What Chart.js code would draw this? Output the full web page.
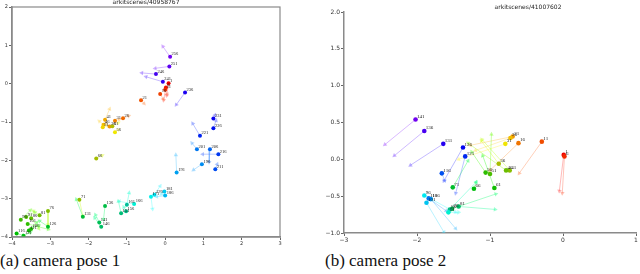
<!DOCTYPE html>
<html>
<head>
<meta charset="utf-8">
<script src="https://cdn.jsdelivr.net/npm/chart.js@4.4.1/dist/chart.umd.min.js"></script>
<style>
  body { margin: 0; background: #fff; width: 640px; height: 274px; position: relative; overflow: hidden; }
  .box { position: absolute; top: 0; }
  #boxA { left: 0; width: 300px; height: 247px; }
  #boxB { left: 320px; width: 320px; height: 245px; }
  .cap { position: absolute; top: 251px; font: 17px "Liberation Serif", serif; color: #111; white-space: nowrap; }
</style>
</head>
<body>
<div class="box" id="boxA"><canvas id="chartA"></canvas></div>
<div class="box" id="boxB"><canvas id="chartB"></canvas></div>
<div class="cap" style="left:0px">(a) camera pose 1</div>
<div class="cap" style="left:325px">(b) camera pose 2</div>
<script>
// scene 40958767 : frame ids, camera positions and where each view arrow points
var leftFrames = [1, 6, 11, 16, 21, 26, 31, 36, 41, 46, 51, 56, 61, 66, 71, 76, 81, 86, 91, 96, 101, 106, 111, 116, 121, 126,
  131, 136, 141, 146, 151, 156, 161, 166, 171, 176, 181, 186, 191, 196, 201, 206, 211, 216, 221, 226, 231, 236, 241, 246, 251, 256];
var leftX = [0.09, 0.02, 0.00, -0.13, -0.63, -1.10, -1.31, -1.45, -1.57, -1.61, -1.63, -1.31, -1.38, -1.80, -2.24, -3.06, -3.28,
  -3.50, -3.63, -3.77, -3.59, -3.50, -3.56, -3.88, -3.70, -3.06, -2.15, -1.57, -1.72, -1.67, -1.15, -1.02, -1.00, -0.81, -0.37,
  -0.28, -0.02, 0.00, 0.30, 0.96, 0.83, 1.17, 1.31, 1.39, 0.91, 1.26, 1.26, 0.52, -0.06, -0.24, 0.11, 0.13];
var leftY = [0.01, -0.10, -0.16, -0.27, -0.43, -0.90, -0.97, -1.12, -0.94, -1.07, -1.14, -1.27, -1.11, -1.95, -3.03, -3.32, -3.43,
  -3.51, -3.48, -3.55, -3.66, -3.79, -3.83, -3.91, -3.97, -3.73, -3.47, -3.19, -3.62, -3.73, -3.38, -3.33, -3.16, -3.14, -2.95,
  -2.90, -2.81, -2.92, -2.32, -2.10, -1.71, -1.71, -2.23, -1.84, -1.36, -1.16, -0.91, -0.23, 0.05, 0.25, 0.45, 0.70];
var leftToX = [0.04, -0.04, 0.05, -0.05, -0.55, -0.95, -1.20, -1.55, -1.45, -1.72, -1.50, -1.22, -1.22, -1.64, -2.15, -3.06, -3.44,
  -3.30, -3.40, -3.52, -3.05, -3.30, -3.35, -3.70, -3.52, -3.28, -2.32, -1.61, -1.82, -1.84, -1.22, -1.08, -0.94, -1.20, -0.33,
  -0.13, -0.10, -0.22, 0.28, 0.74, 0.70, 1.15, 1.36, 0.98, 0.72, 1.33, 1.30, 0.29, -0.50, -0.61, -0.26, -0.06];
var leftToY = [-0.31, -0.43, -0.28, -0.40, -0.52, -0.84, -0.93, -1.02, -0.66, -0.98, -1.10, -1.20, -1.02, -1.87, -3.45, -3.68, -3.32,
  -3.78, -3.36, -3.30, -3.80, -3.70, -3.62, -3.96, -3.88, -3.58, -3.02, -3.54, -3.42, -3.50, -3.07, -3.22, -2.85, -3.07, -3.27,
  -2.67, -2.88, -2.95, -1.86, -2.25, -1.55, -2.05, -2.10, -1.84, -1.04, -0.96, -0.82, -0.55, 0.18, 0.28, 0.40, 0.97];

// scene 41007602
var rightFrames = [1, 6, 11, 16, 21, 26, 31, 36, 41, 46, 51, 56, 61, 66, 71, 76, 81, 86, 91, 96, 101, 106, 111, 116, 121, 126, 131, 136, 141];
var rightX = [0.01, 0.02, -0.29, -0.61, -0.69, -0.72, -0.79, -0.88, -0.73, -0.78, -1.00, -1.06, -0.94, -1.22, -1.51, -1.52, -1.43,
  -1.55, -1.57, -1.90, -1.87, -1.81, -1.84, -1.66, -1.34, -1.37, -1.64, -1.90, -2.02];
var rightY = [0.06, 0.04, 0.24, 0.22, 0.31, 0.29, 0.21, -0.06, -0.15, -0.15, -0.20, -0.18, -0.39, -0.40, -0.38, -0.67, -0.64,
  -0.68, -0.72, -0.49, -0.59, -0.54, -0.53, -0.19, 0.04, 0.16, 0.21, 0.385, 0.54];
var rightToX = [-0.05, -0.01, -0.60, -1.00, -1.27, -1.20, -1.43, -1.12, -1.11, -1.30, -0.98, -1.25, -1.10, -1.19, -1.30, -0.92, -0.93,
  -1.19, -1.43, -1.47, -1.63, -1.47, -1.60, -1.62, -1.47, -1.63, -2.09, -2.31, -2.44];
var rightToY = [-0.43, -0.46, -0.19, -0.15, 0.19, 0.12, 0.00, 0.25, 0.27, 0.22, 0.34, 0.10, 0.05, -0.31, -0.02, -0.47, -0.68,
  -0.31, -0.72, -0.72, -0.99, -0.94, -0.70, -0.29, -0.46, -0.29, -0.08, 0.05, 0.20];

Chart.defaults.font.family = "DejaVu Sans";
Chart.defaults.animation = false;

// hue ramp: first frame red, last frame purple
function frameColor(t, a, light) {
  var h = Math.round(268 * t);
  var l = light;
  if (h > 60 && h < 170) l = light - 10; // greens read darker in the original
  return 'hsla(' + h + ',100%,' + l + '%,' + a + ')';
}

function minusFmt(v, dec) {
  var s = Math.abs(v).toFixed(dec);
  return (v < 0 ? '\u2212' : '') + s;
}

function makeChart(id, d, o) {
  var last = d.frames[d.frames.length - 1];
  var dotCol = [], arrCol = [], pts = [], ends = [], shafts = [];
  d.frames.forEach(function(f, i) {
    var t = (f - 1) / (last - 1);
    dotCol.push(frameColor(t, 1, 47));
    arrCol.push(frameColor(t, 0.4, 62));
    pts.push({ x: d.xs[i], y: d.ys[i] });
    ends.push({ x: d.tx[i], y: d.ty[i] });
    shafts.push({ x: d.xs[i], y: d.ys[i] }, { x: d.tx[i], y: d.ty[i] }, { x: d.tx[i], y: null });
  });

  var overlay = {
    id: 'overlay',
    afterDatasetsDraw: function(chart) {
      var c = chart.ctx, a = chart.chartArea;
      c.save();
      // frame numbers next to the cameras
      c.fillStyle = '#222';
      c.font = o.labelSize + 'px "Liberation Serif"';
      c.textBaseline = 'bottom';
      chart.getDatasetMeta(2).data.forEach(function(el, i) {
        c.fillText(String(d.frames[i]), el.x + 1.5, el.y - 0.5);
      });
      if (o.box) {
        c.strokeStyle = '#8a8a8a';
        c.lineWidth = 1.2;
        c.strokeRect(a.left, a.top, a.right - a.left, a.bottom - a.top);
      }
      c.fillStyle = '#222';
      c.font = o.titleSize + 'px "DejaVu Sans"';
      c.textAlign = 'center';
      c.textBaseline = 'alphabetic';
      c.fillText(o.title, o.titleX, o.titleY);
      c.restore();
    }
  };

  var axisCommon = function(min, max, step, dec) {
    return {
      type: 'linear', min: min, max: max,
      grid: { display: true, drawOnChartArea: false, drawTicks: true, tickLength: 3, color: '#666' },
      border: { display: true, color: '#8a8a8a', width: 1.5 },
      ticks: { stepSize: step, padding: 1, color: '#333', font: { size: o.tickSize },
        callback: function(v) { return minusFmt(v, dec); } }
    };
  };
  var xs = axisCommon(o.xMin, o.xMax, o.xStep, o.xDec);
  xs.ticks.maxRotation = 0;
  xs.afterFit = function(s) { s.height = o.xHeight; };
  var ys = axisCommon(o.yMin, o.yMax, o.yStep, o.yDec);
  ys.afterFit = function(s) { s.width = o.yWidth; };

  return new Chart(document.getElementById(id), {
    type: 'scatter',
    data: {
      datasets: [
        {
          type: 'line', data: shafts, order: 3, borderWidth: 0.9, pointRadius: 0, spanGaps: false,
          segment: { borderColor: function(ctx) { return arrCol[Math.floor(ctx.p0DataIndex / 3)]; } }
        },
        {
          data: ends, order: 2, pointStyle: 'triangle', pointRadius: 2.6, borderWidth: 0,
          backgroundColor: arrCol,
          pointRotation: function(ctx) {
            var sx = ctx.chart.scales.x, sy = ctx.chart.scales.y, i = ctx.dataIndex;
            var dx = sx.getPixelForValue(d.tx[i]) - sx.getPixelForValue(d.xs[i]);
            var dy = sy.getPixelForValue(d.ty[i]) - sy.getPixelForValue(d.ys[i]);
            return Math.atan2(dx, -dy) * 180 / Math.PI;
          }
        },
        { data: pts, order: 1, pointRadius: o.dot, borderWidth: 0, backgroundColor: dotCol }
      ]
    },
    options: {
      responsive: true, maintainAspectRatio: false,
      layout: { padding: o.padding },
      plugins: { legend: { display: false }, tooltip: { enabled: false } },
      scales: { x: xs, y: ys }
    },
    plugins: [overlay]
  });
}

makeChart('chartA',
  { frames: leftFrames, xs: leftX, ys: leftY, tx: leftToX, ty: leftToY },
  { xMin: -4, xMax: 3, xStep: 1, xDec: 0, yMin: -4, yMax: 2, yStep: 1, yDec: 0,
    padding: { left: 0, right: 20, top: 7, bottom: 0 }, yWidth: 12, xHeight: 10, dot: 2,
    tickSize: 5, labelSize: 4.5, box: true, title: 'arkitscenes/40958767', titleSize: 6, titleX: 146, titleY: 4 });

makeChart('chartB',
  { frames: rightFrames, xs: rightX, ys: rightY, tx: rightToX, ty: rightToY },
  { xMin: -3, xMax: 1, xStep: 1, xDec: 0, yMin: -1, yMax: 2, yStep: 0.5, yDec: 1,
    padding: { left: 0, right: 2, top: 12, bottom: 0 }, yWidth: 24, xHeight: 12, dot: 2.3,
    tickSize: 6, labelSize: 5, box: false, title: 'arkitscenes/41007602', titleSize: 6, titleX: 208, titleY: 9 });
</script>
</body>
</html>
